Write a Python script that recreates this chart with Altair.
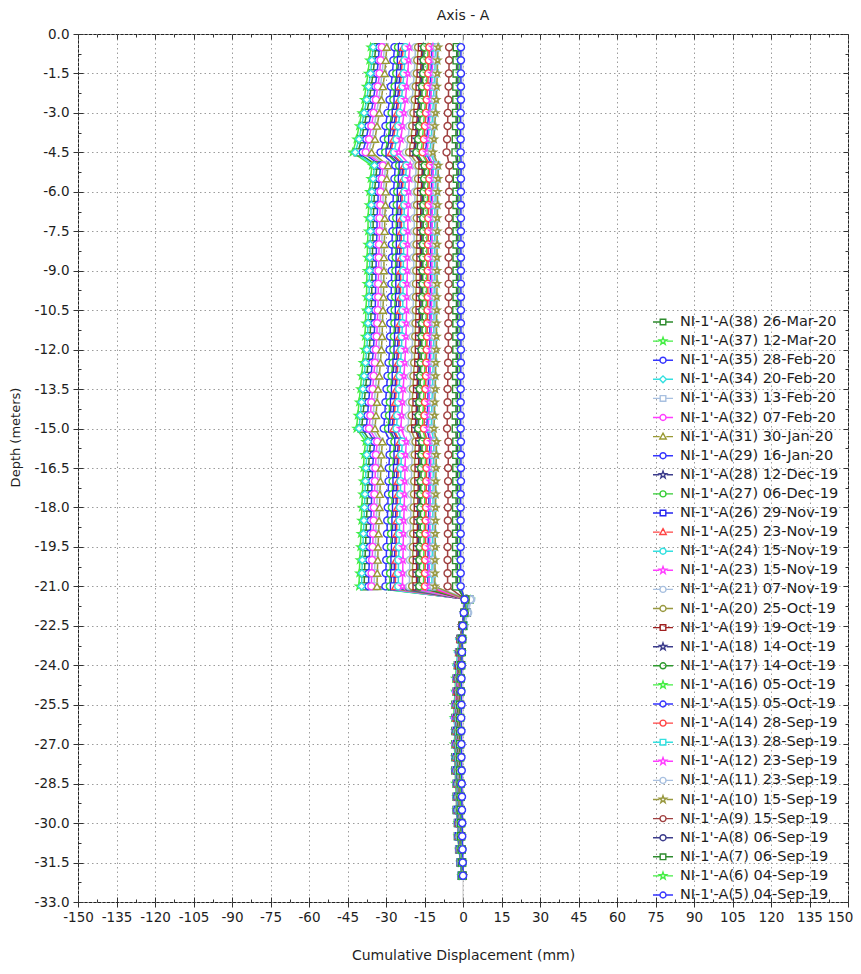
import altair as alt
import pandas as pd

FONT = "DejaVu Sans"
TXT = "#1e1e1e"

DEPTHS = [-0.5, -1.0, -1.5, -2.0, -2.5, -3.0, -3.5, -4.0, -4.5, -5.0, -5.5, -6.0, -6.5, -7.0, -7.5,
          -8.0, -8.5, -9.0, -9.5, -10.0, -10.5, -11.0, -11.5, -12.0, -12.5, -13.0, -13.5, -14.0,
          -14.5, -15.0, -15.5, -16.0, -16.5, -17.0, -17.5, -18.0, -18.5, -19.0, -19.5, -20.0, -20.5,
          -21.0, -21.5, -22.0, -22.5, -23.0, -23.5, -24.0, -24.5, -25.0, -25.5, -26.0, -26.5, -27.0,
          -27.5, -28.0, -28.5, -29.0, -29.5, -30.0, -30.5, -31.0, -31.5, -32.0]

LABELS = ["NI-1'-A(38) 26-Mar-20", "NI-1'-A(37) 12-Mar-20", "NI-1'-A(35) 28-Feb-20",
          "NI-1'-A(34) 20-Feb-20", "NI-1'-A(33) 13-Feb-20", "NI-1'-A(32) 07-Feb-20",
          "NI-1'-A(31) 30-Jan-20", "NI-1'-A(29) 16-Jan-20", "NI-1'-A(28) 12-Dec-19",
          "NI-1'-A(27) 06-Dec-19", "NI-1'-A(26) 29-Nov-19", "NI-1'-A(25) 23-Nov-19",
          "NI-1'-A(24) 15-Nov-19", "NI-1'-A(23) 15-Nov-19", "NI-1'-A(21) 07-Nov-19",
          "NI-1'-A(20) 25-Oct-19", "NI-1'-A(19) 19-Oct-19", "NI-1'-A(18) 14-Oct-19",
          "NI-1'-A(17) 14-Oct-19", "NI-1'-A(16) 05-Oct-19", "NI-1'-A(15) 05-Oct-19",
          "NI-1'-A(14) 28-Sep-19", "NI-1'-A(13) 28-Sep-19", "NI-1'-A(12) 23-Sep-19",
          "NI-1'-A(11) 23-Sep-19", "NI-1'-A(10) 15-Sep-19", "NI-1'-A(9) 15-Sep-19",
          "NI-1'-A(8) 06-Sep-19", "NI-1'-A(7) 06-Sep-19", "NI-1'-A(6) 04-Sep-19",
          "NI-1'-A(5) 04-Sep-19"]

COLORS = ["#2e8b2e", "#44ee44", "#3535ff", "#33e0e0", "#a8c0e0", "#ff3cff", "#999933",
          "#3535ff", "#3c3c8c", "#33cc33", "#2525f0", "#ff4444", "#33e0e0", "#ff3cff",
          "#a8c0e0", "#999940", "#a02020", "#3c3c8c", "#2e9a2e", "#44ee44", "#3535ff",
          "#ff4444", "#33e0e0", "#ff3cff", "#a8c0e0", "#999940", "#a04040", "#3c3c8c",
          "#2e8b2e", "#44ee44", "#3535ff"]

MARKERS = ["square", "star", "circle", "diamond", "square", "circle", "triangle", "circle",
           "star", "circle", "square", "triangle", "circle", "star", "circle", "circle",
           "square", "star", "circle", "star", "circle", "circle", "square", "star", "circle",
           "star", "circle", "circle", "square", "star", "circle"]

X_TICKS = [-150, -135, -120, -105, -90, -75, -60, -45, -30, -15, 0, 15, 30, 45, 60, 75, 90,
           105, 120, 135, 150]
X_MINOR = [-142.5, -127.5, -112.5, -97.5, -82.5, -67.5, -52.5, -37.5, -22.5, -7.5, 7.5, 22.5,
           37.5, 52.5, 67.5, 82.5, 97.5, 112.5, 127.5, 142.5]
Y_TICKS = [0.0, -1.5, -3.0, -4.5, -6.0, -7.5, -9.0, -10.5, -12.0, -13.5, -15.0, -16.5, -18.0,
           -19.5, -21.0, -22.5, -24.0, -25.5, -27.0, -28.5, -30.0, -31.5, -33.0]
Y_MINOR = [-0.75, -2.25, -3.75, -5.25, -6.75, -8.25, -9.75, -11.25, -12.75, -14.25, -15.75,
           -17.25, -18.75, -20.25, -21.75, -23.25, -24.75, -26.25, -27.75, -29.25, -30.75, -32.25]

A38 = [-34.0, -34.5, -35.0, -35.8, -36.5, -37.5, -38.5, -39.5, -41.0,
       -33.5, -34.0, -34.5, -34.7, -35.0, -35.0, -35.2, -35.3, -35.4, -35.5, -35.6, -35.8, -36.0, -36.2, -36.5, -37.0, -37.5, -38.0, -38.5, -39.0, -39.5,
       -36.0, -36.5, -36.8, -37.0, -37.2, -37.4, -37.6, -37.8, -38.0, -38.2, -38.4, -38.5,
       2.5, 1.5, 0.0, -1.0, -1.5, -2.0, -2.5, -2.5, -3.0, -3.0, -3.0, -3.0, -3.0, -3.0, -2.5, -2.5, -2.5, -2.0, -2.0, -1.5, -1.0, -0.5]
A37 = [-36.0, -36.5, -37.0, -37.8, -38.5, -39.5, -40.5, -41.5, -43.0,
       -35.5, -36.0, -36.5, -36.7, -37.0, -37.0, -37.2, -37.3, -37.4, -37.5, -37.6, -37.8, -38.0, -38.2, -38.5, -39.0, -39.5, -40.0, -40.5, -41.0, -41.5,
       -38.0, -38.5, -38.8, -39.0, -39.2, -39.4, -39.6, -39.8, -40.0, -40.2, -40.4, -40.5,
       3.0, 1.5, 0.5, -1.0, -2.0, -2.5, -3.0, -3.0, -3.5, -3.5, -3.0, -3.5, -3.0, -3.0, -3.0, -2.5, -2.5, -2.0, -2.0, -1.5, -1.0, -0.5]
A35 = [-32.6, -33.0, -33.5, -34.2, -34.9, -35.8, -36.8, -37.7, -39.1,
       -32.1, -32.6, -33.0, -33.2, -33.5, -33.5, -33.7, -33.8, -33.9, -34.0, -34.1, -34.2, -34.4, -34.6, -34.9, -35.4, -35.8, -36.3, -36.8, -37.2, -37.7,
       -34.4, -34.9, -35.2, -35.4, -35.6, -35.7, -35.9, -36.1, -36.3, -36.5, -36.7, -36.8,
       2.4, 1.4, 0.0, -1.0, -1.4, -1.9, -2.4, -2.4, -2.9, -2.9, -2.9, -2.9, -2.9, -2.9, -2.4, -2.4, -2.4, -1.9, -1.9, -1.4, -1.0, -0.5]
A34 = [-35.0, -35.5, -36.0, -36.8, -37.5, -38.5, -39.5, -40.5, -42.0,
       -34.5, -35.0, -35.5, -35.7, -36.0, -36.0, -36.2, -36.3, -36.4, -36.5, -36.6, -36.8, -37.0, -37.2, -37.5, -38.0, -38.5, -39.0, -39.5, -40.0, -40.5,
       -37.0, -37.5, -37.8, -38.0, -38.2, -38.4, -38.6, -38.8, -39.0, -39.2, -39.4, -39.5,
       2.5, 1.0, 0.0, -1.5, -2.0, -2.5, -2.5, -3.0, -3.0, -3.5, -3.0, -3.0, -3.0, -2.5, -2.5, -2.5, -2.0, -2.0, -1.5, -1.5, -1.0, -0.5]
A33 = [-30.6, -31.1, -31.5, -32.2, -32.8, -33.7, -34.6, -35.4, -36.8,
       -30.2, -30.6, -31.1, -31.2, -31.5, -31.5, -31.7, -31.8, -31.9, -31.9, -32.0, -32.2, -32.4, -32.6, -32.8, -33.3, -33.7, -34.1, -34.6, -35.0, -35.4,
       -32.4, -32.8, -33.1, -33.3, -33.4, -33.6, -33.8, -34.0, -34.1, -34.3, -34.5, -34.6,
       2.3, 1.4, 0.2, -0.9, -1.4, -1.8, -2.3, -2.3, -2.7, -2.7, -2.7, -2.7, -2.7, -2.7, -2.3, -2.3, -2.3, -1.8, -1.8, -1.4, -0.9, -0.5]
A32 = [-31.6, -32.1, -32.5, -33.2, -33.9, -34.8, -35.7, -36.6, -37.9,
       -31.2, -31.6, -32.1, -32.2, -32.5, -32.5, -32.7, -32.8, -32.9, -33.0, -33.0, -33.2, -33.4, -33.6, -33.9, -34.3, -34.8, -35.2, -35.7, -36.1, -36.6,
       -33.4, -33.9, -34.1, -34.3, -34.5, -34.7, -34.8, -35.0, -35.2, -35.4, -35.6, -35.7,
       2.0, 1.2, -0.2, -1.1, -1.6, -2.0, -2.4, -2.6, -2.9, -3.0, -2.8, -2.9, -2.7, -2.6, -2.4, -2.2, -2.1, -1.9, -1.7, -1.3, -0.9, -0.4]
A31 = [-29.7, -30.1, -30.5, -31.2, -31.8, -32.6, -33.5, -34.3, -35.6,
       -29.2, -29.7, -30.1, -30.2, -30.5, -30.5, -30.7, -30.8, -30.8, -30.9, -31.0, -31.2, -31.4, -31.5, -31.8, -32.2, -32.6, -33.1, -33.5, -33.9, -34.3,
       -31.4, -31.8, -32.0, -32.2, -32.4, -32.5, -32.7, -32.9, -33.1, -33.2, -33.4, -33.5,
       2.2, 1.3, 0.0, -0.9, -1.3, -1.8, -2.2, -2.2, -2.7, -2.7, -2.7, -2.7, -2.7, -2.7, -2.2, -2.2, -2.2, -1.8, -1.8, -1.3, -0.9, -0.4]
A29 = [-26.7, -27.1, -27.5, -28.1, -28.6, -29.4, -30.2, -30.9, -32.1,
       -26.4, -26.7, -27.1, -27.3, -27.5, -27.5, -27.7, -27.7, -27.8, -27.9, -28.0, -28.1, -28.3, -28.4, -28.6, -29.0, -29.4, -29.8, -30.2, -30.5, -30.9,
       -28.3, -28.6, -28.9, -29.0, -29.2, -29.3, -29.5, -29.6, -29.8, -29.9, -30.1, -30.2,
       2.1, 1.2, 0.0, -0.8, -1.2, -1.7, -2.1, -2.1, -2.5, -2.5, -2.5, -2.5, -2.5, -2.5, -2.1, -2.1, -2.1, -1.7, -1.7, -1.2, -0.8, -0.4]
A28 = [-24.8, -25.1, -25.5, -26.1, -26.6, -27.3, -28.0, -28.7, -29.8,
       -24.4, -24.8, -25.1, -25.3, -25.5, -25.5, -25.6, -25.7, -25.8, -25.9, -25.9, -26.1, -26.2, -26.4, -26.6, -26.9, -27.3, -27.6, -28.0, -28.3, -28.7,
       -26.2, -26.6, -26.8, -26.9, -27.1, -27.2, -27.4, -27.5, -27.6, -27.8, -27.9, -28.0,
       1.6, 0.9, -0.3, -1.1, -1.4, -1.8, -2.1, -2.2, -2.4, -2.6, -2.4, -2.3, -2.4, -2.2, -2.0, -1.9, -1.8, -1.5, -1.4, -1.0, -0.7, -0.3]
A27 = [-25.3, -25.6, -26.0, -26.6, -27.1, -27.8, -28.5, -29.2, -30.3,
       -24.9, -25.3, -25.6, -25.8, -26.0, -26.0, -26.1, -26.2, -26.3, -26.4, -26.4, -26.6, -26.7, -26.9, -27.1, -27.4, -27.8, -28.1, -28.5, -28.8, -29.2,
       -26.7, -27.1, -27.3, -27.4, -27.6, -27.7, -27.9, -28.0, -28.1, -28.3, -28.4, -28.5,
       2.2, 1.3, 0.1, -0.7, -1.3, -1.6, -2.0, -2.1, -2.4, -2.3, -2.5, -2.4, -2.5, -2.3, -2.1, -2.0, -1.9, -1.6, -1.5, -1.1, -0.8, -0.3]
A26 = [-23.8, -24.2, -24.5, -25.0, -25.5, -26.2, -26.9, -27.6, -28.6,
       -23.5, -23.8, -24.2, -24.3, -24.5, -24.5, -24.6, -24.7, -24.8, -24.8, -24.9, -25.0, -25.2, -25.3, -25.5, -25.9, -26.2, -26.5, -26.9, -27.2, -27.6,
       -25.2, -25.5, -25.7, -25.9, -26.0, -26.1, -26.3, -26.4, -26.5, -26.7, -26.8, -26.9,
       2.0, 1.2, 0.0, -0.8, -1.2, -1.6, -2.0, -2.0, -2.3, -2.3, -2.3, -2.3, -2.3, -2.3, -2.0, -2.0, -2.0, -1.6, -1.6, -1.2, -0.8, -0.4]
A25 = [-23.3, -23.7, -24.0, -24.5, -25.0, -25.7, -26.4, -27.1, -28.1,
       -23.0, -23.3, -23.7, -23.8, -24.0, -24.0, -24.1, -24.2, -24.3, -24.3, -24.4, -24.5, -24.7, -24.8, -25.0, -25.4, -25.7, -26.0, -26.4, -26.7, -27.1,
       -24.7, -25.0, -25.2, -25.4, -25.5, -25.6, -25.8, -25.9, -26.0, -26.2, -26.3, -26.4,
       1.7, 0.9, -0.2, -1.0, -1.3, -1.7, -2.1, -2.2, -2.4, -2.4, -2.2, -2.3, -2.2, -2.1, -1.9, -1.8, -1.7, -1.4, -1.3, -1.0, -0.6, -0.2]
A24 = [-22.4, -22.7, -23.0, -23.5, -24.0, -24.6, -25.2, -25.9, -26.8,
       -22.0, -22.4, -22.7, -22.8, -23.0, -23.0, -23.1, -23.2, -23.3, -23.3, -23.4, -23.5, -23.6, -23.8, -24.0, -24.3, -24.6, -24.9, -25.2, -25.6, -25.9,
       -23.6, -24.0, -24.2, -24.3, -24.4, -24.5, -24.7, -24.8, -24.9, -25.1, -25.2, -25.2,
       1.9, 1.1, 0.0, -0.8, -1.1, -1.5, -1.9, -1.9, -2.3, -2.3, -2.3, -2.3, -2.3, -2.3, -1.9, -1.9, -1.9, -1.5, -1.5, -1.1, -0.8, -0.4]
A23 = [-20.9, -21.2, -21.5, -22.0, -22.4, -23.0, -23.6, -24.2, -25.1,
       -20.6, -20.9, -21.2, -21.3, -21.5, -21.5, -21.6, -21.7, -21.7, -21.8, -21.9, -22.0, -22.1, -22.2, -22.4, -22.7, -23.0, -23.3, -23.6, -23.9, -24.2,
       -22.1, -22.4, -22.6, -22.7, -22.8, -22.9, -23.1, -23.2, -23.3, -23.4, -23.5, -23.6,
       1.5, 0.8, -0.2, -0.9, -1.2, -1.5, -1.8, -1.9, -2.1, -2.2, -2.0, -2.1, -2.0, -1.9, -1.7, -1.6, -1.5, -1.3, -1.2, -0.9, -0.6, -0.2]
A21 = [-18.5, -18.7, -19.0, -19.4, -19.8, -20.3, -20.9, -21.4, -22.2,
       -18.2, -18.5, -18.7, -18.8, -19.0, -19.0, -19.1, -19.2, -19.2, -19.3, -19.3, -19.4, -19.5, -19.6, -19.8, -20.1, -20.3, -20.6, -20.9, -21.1, -21.4,
       -19.5, -19.8, -20.0, -20.1, -20.2, -20.3, -20.4, -20.5, -20.6, -20.7, -20.8, -20.9,
       3.2, 2.0, 0.5, -0.4, -0.9, -1.3, -1.6, -1.6, -1.9, -1.9, -1.9, -1.9, -1.9, -1.9, -1.6, -1.6, -1.6, -1.3, -1.3, -0.9, -0.6, -0.3]
A20 = [-17.5, -17.8, -18.0, -18.4, -18.8, -19.3, -19.8, -20.3, -21.0,
       -17.3, -17.5, -17.8, -17.9, -18.0, -18.0, -18.1, -18.2, -18.2, -18.3, -18.3, -18.4, -18.5, -18.6, -18.8, -19.0, -19.3, -19.5, -19.8, -20.0, -20.3,
       -18.5, -18.8, -18.9, -19.0, -19.1, -19.2, -19.3, -19.4, -19.5, -19.6, -19.7, -19.8,
       1.6, 1.0, 0.0, -0.7, -1.0, -1.3, -1.6, -1.6, -2.0, -2.0, -2.0, -2.0, -2.0, -2.0, -1.6, -1.6, -1.6, -1.3, -1.3, -1.0, -0.7, -0.3]
A19 = [-16.0, -16.3, -16.5, -16.9, -17.2, -17.7, -18.1, -18.6, -19.3,
       -15.8, -16.0, -16.3, -16.4, -16.5, -16.5, -16.6, -16.6, -16.7, -16.7, -16.8, -16.9, -17.0, -17.1, -17.2, -17.4, -17.7, -17.9, -18.1, -18.3, -18.6,
       -17.0, -17.2, -17.3, -17.4, -17.5, -17.6, -17.7, -17.8, -17.9, -18.0, -18.1, -18.1,
       1.3, 0.7, -0.2, -0.8, -1.1, -1.4, -1.6, -1.7, -1.9, -2.0, -1.8, -1.9, -1.8, -1.7, -1.5, -1.5, -1.4, -1.2, -1.1, -0.8, -0.5, -0.2]
A18 = [-15.5, -15.8, -16.0, -16.4, -16.7, -17.2, -17.6, -18.1, -18.8,
       -15.3, -15.5, -15.8, -15.9, -16.0, -16.0, -16.1, -16.1, -16.2, -16.2, -16.3, -16.4, -16.5, -16.6, -16.7, -16.9, -17.2, -17.4, -17.6, -17.8, -18.1,
       -16.5, -16.7, -16.8, -16.9, -17.0, -17.1, -17.2, -17.3, -17.4, -17.5, -17.6, -17.6,
       1.5, 0.9, 0.0, -0.6, -0.9, -1.2, -1.5, -1.5, -1.8, -1.8, -1.8, -1.8, -1.8, -1.8, -1.5, -1.5, -1.5, -1.2, -1.2, -0.9, -0.6, -0.3]
A17 = [-15.1, -15.3, -15.5, -15.9, -16.1, -16.6, -17.0, -17.4, -18.1,
       -14.9, -15.1, -15.3, -15.4, -15.5, -15.5, -15.6, -15.6, -15.7, -15.7, -15.8, -15.8, -15.9, -16.0, -16.1, -16.4, -16.6, -16.8, -17.0, -17.2, -17.4,
       -15.9, -16.1, -16.3, -16.4, -16.5, -16.5, -16.6, -16.7, -16.8, -16.9, -17.0, -17.0,
       1.2, 0.6, -0.3, -0.9, -1.1, -1.4, -1.6, -1.6, -1.8, -1.9, -1.7, -1.8, -1.7, -1.6, -1.4, -1.3, -1.3, -1.1, -1.0, -0.7, -0.5, -0.2]
A16 = [-13.6, -13.8, -14.0, -14.3, -14.6, -15.0, -15.4, -15.8, -16.3,
       -13.4, -13.6, -13.8, -13.9, -14.0, -14.0, -14.1, -14.1, -14.2, -14.2, -14.2, -14.3, -14.4, -14.5, -14.6, -14.8, -15.0, -15.2, -15.4, -15.6, -15.8,
       -14.4, -14.6, -14.7, -14.8, -14.9, -14.9, -15.0, -15.1, -15.2, -15.3, -15.3, -15.4,
       1.4, 0.9, 0.0, -0.6, -0.9, -1.1, -1.4, -1.4, -1.7, -1.7, -1.7, -1.7, -1.7, -1.7, -1.4, -1.4, -1.4, -1.1, -1.1, -0.9, -0.6, -0.3]
A15 = [-12.2, -12.3, -12.5, -12.8, -13.0, -13.4, -13.7, -14.1, -14.6,
       -12.0, -12.2, -12.3, -12.4, -12.5, -12.5, -12.6, -12.6, -12.6, -12.7, -12.7, -12.8, -12.9, -12.9, -13.0, -13.2, -13.4, -13.6, -13.7, -13.9, -14.1,
       -12.9, -13.0, -13.1, -13.2, -13.3, -13.3, -13.4, -13.5, -13.6, -13.6, -13.7, -13.7,
       1.1, 0.6, -0.2, -0.7, -0.9, -1.2, -1.4, -1.5, -1.6, -1.7, -1.5, -1.6, -1.5, -1.4, -1.3, -1.2, -1.1, -0.9, -0.9, -0.6, -0.4, -0.1]
A14 = [-13.1, -13.3, -13.5, -13.8, -14.1, -14.4, -14.8, -15.2, -15.7,
       -12.9, -13.1, -13.3, -13.4, -13.5, -13.5, -13.6, -13.6, -13.7, -13.7, -13.7, -13.8, -13.9, -14.0, -14.1, -14.3, -14.4, -14.6, -14.8, -15.0, -15.2,
       -13.9, -14.1, -14.2, -14.3, -14.3, -14.4, -14.5, -14.6, -14.6, -14.7, -14.8, -14.8,
       1.3, 0.8, 0.0, -0.5, -0.8, -1.1, -1.4, -1.4, -1.6, -1.6, -1.6, -1.6, -1.6, -1.6, -1.4, -1.4, -1.4, -1.1, -1.1, -0.8, -0.5, -0.3]
A13 = [-10.7, -10.8, -11.0, -11.3, -11.5, -11.8, -12.1, -12.4, -12.9,
       -10.5, -10.7, -10.8, -10.9, -11.0, -11.0, -11.1, -11.1, -11.1, -11.2, -11.2, -11.3, -11.3, -11.4, -11.5, -11.6, -11.8, -11.9, -12.1, -12.2, -12.4,
       -11.3, -11.5, -11.6, -11.6, -11.7, -11.7, -11.8, -11.9, -11.9, -12.0, -12.1, -12.1,
       1.3, 0.8, 0.1, -0.5, -0.8, -1.0, -1.3, -1.3, -1.6, -1.6, -1.6, -1.6, -1.6, -1.6, -1.3, -1.3, -1.3, -1.0, -1.0, -0.8, -0.5, -0.3]
A12 = [-11.7, -11.8, -12.0, -12.3, -12.5, -12.8, -13.2, -13.5, -14.0,
       -11.5, -11.7, -11.8, -11.9, -12.0, -12.0, -12.1, -12.1, -12.1, -12.2, -12.2, -12.3, -12.3, -12.4, -12.5, -12.7, -12.8, -13.0, -13.2, -13.3, -13.5,
       -12.3, -12.5, -12.6, -12.7, -12.7, -12.8, -12.9, -12.9, -13.0, -13.1, -13.1, -13.2,
       1.0, 0.5, -0.3, -0.7, -1.0, -1.2, -1.4, -1.5, -1.6, -1.7, -1.5, -1.6, -1.5, -1.4, -1.2, -1.1, -1.1, -0.9, -0.8, -0.6, -0.4, -0.1]
A11 = [-10.2, -10.4, -10.5, -10.7, -10.9, -11.2, -11.5, -11.8, -12.2,
       -10.1, -10.2, -10.4, -10.4, -10.5, -10.5, -10.6, -10.6, -10.6, -10.7, -10.7, -10.7, -10.8, -10.9, -10.9, -11.1, -11.2, -11.4, -11.5, -11.7, -11.8,
       -10.8, -10.9, -11.0, -11.1, -11.1, -11.2, -11.3, -11.3, -11.4, -11.4, -11.5, -11.5,
       2.8, 1.7, 0.4, -0.3, -0.7, -1.0, -1.3, -1.3, -1.5, -1.5, -1.5, -1.5, -1.5, -1.5, -1.3, -1.3, -1.3, -1.0, -1.0, -0.7, -0.5, -0.2]
A10 = [-9.7, -9.9, -10.0, -10.2, -10.4, -10.7, -11.0, -11.3, -11.7,
       -9.6, -9.7, -9.9, -9.9, -10.0, -10.0, -10.1, -10.1, -10.1, -10.1, -10.2, -10.2, -10.3, -10.3, -10.4, -10.6, -10.7, -10.8, -11.0, -11.1, -11.3,
       -10.3, -10.4, -10.5, -10.6, -10.6, -10.7, -10.7, -10.8, -10.8, -10.9, -10.9, -11.0,
       0.9, 0.4, -0.3, -0.8, -1.0, -1.2, -1.4, -1.4, -1.6, -1.6, -1.5, -1.5, -1.4, -1.4, -1.2, -1.1, -1.0, -0.9, -0.8, -0.6, -0.4, -0.1]
A9 = [-5.4, -5.4, -5.5, -5.6, -5.7, -5.9, -6.0, -6.2, -6.4,
      -5.3, -5.4, -5.4, -5.5, -5.5, -5.5, -5.5, -5.6, -5.6, -5.6, -5.6, -5.6, -5.7, -5.7, -5.7, -5.8, -5.9, -6.0, -6.0, -6.1, -6.2,
      -5.7, -5.7, -5.8, -5.8, -5.8, -5.9, -5.9, -5.9, -6.0, -6.0, -6.0, -6.0,
      1.0, 0.6, 0.0, -0.4, -0.6, -0.8, -1.0, -1.0, -1.2, -1.2, -1.2, -1.2, -1.2, -1.2, -1.0, -1.0, -1.0, -0.8, -0.8, -0.6, -0.4, -0.2]
A8 = [-2.0, -2.0, -2.0, -2.0, -2.1, -2.1, -2.2, -2.3, -2.4,
      -1.9, -1.9, -2.0, -2.0, -2.0, -2.0, -2.0, -2.0, -2.0, -2.0, -2.0, -2.0, -2.1, -2.1, -2.1, -2.1, -2.2, -2.2, -2.2, -2.2, -2.3,
      -2.1, -2.1, -2.1, -2.1, -2.1, -2.1, -2.2, -2.2, -2.2, -2.2, -2.2, -2.2,
      0.7, 0.4, -0.1, -0.4, -0.6, -0.7, -0.8, -0.8, -1.0, -1.0, -0.9, -0.9, -0.9, -0.8, -0.7, -0.7, -0.6, -0.5, -0.5, -0.3, -0.2, 0.0]
A7 = [-2.4, -2.5, -2.5, -2.6, -2.6, -2.7, -2.7, -2.8, -2.9,
      -2.4, -2.4, -2.5, -2.5, -2.5, -2.5, -2.5, -2.5, -2.5, -2.5, -2.5, -2.6, -2.6, -2.6, -2.6, -2.6, -2.7, -2.7, -2.7, -2.8, -2.8,
      -2.6, -2.6, -2.6, -2.6, -2.7, -2.7, -2.7, -2.7, -2.7, -2.7, -2.7, -2.7,
      0.9, 0.5, 0.0, -0.3, -0.5, -0.7, -0.9, -0.9, -1.1, -1.1, -1.1, -1.1, -1.1, -1.1, -0.9, -0.9, -0.9, -0.7, -0.7, -0.5, -0.3, -0.2]
A6 = [-1.2, -1.2, -1.2, -1.2, -1.2, -1.3, -1.3, -1.3, -1.4,
      -1.1, -1.2, -1.2, -1.2, -1.2, -1.2, -1.2, -1.2, -1.2, -1.2, -1.2, -1.2, -1.2, -1.2, -1.2, -1.3, -1.3, -1.3, -1.3, -1.3, -1.3,
      -1.2, -1.3, -1.3, -1.3, -1.3, -1.3, -1.3, -1.3, -1.3, -1.3, -1.3, -1.3,
      0.8, 0.5, 0.0, -0.3, -0.5, -0.6, -0.8, -0.8, -0.9, -0.9, -0.9, -0.9, -0.9, -0.9, -0.8, -0.8, -0.8, -0.6, -0.6, -0.5, -0.3, -0.2]
A5 = [-0.8, -0.8, -0.8, -0.8, -0.8, -0.9, -0.9, -0.9, -0.9,
      -0.7, -0.8, -0.8, -0.8, -0.8, -0.8, -0.8, -0.8, -0.8, -0.8, -0.8, -0.8, -0.8, -0.8, -0.8, -0.8, -0.9, -0.9, -0.9, -0.9, -0.9,
      -0.8, -0.8, -0.8, -0.8, -0.9, -0.9, -0.9, -0.9, -0.9, -0.9, -0.9, -0.9,
      0.6, 0.3, -0.1, -0.3, -0.4, -0.5, -0.6, -0.6, -0.6, -0.7, -0.6, -0.6, -0.6, -0.5, -0.5, -0.4, -0.4, -0.3, -0.3, -0.2, -0.1, 0.0]

SERIES = [A38, A37, A35, A34, A33, A32, A31, A29, A28, A27, A26, A25, A24, A23, A21, A20,
          A19, A18, A17, A16, A15, A14, A13, A12, A11, A10, A9, A8, A7, A6, A5]

for _s in SERIES:
    assert len(_s) == len(DEPTHS), len(_s)

STAR = ("M0,-1L0.24,-0.32L0.95,-0.31L0.38,0.12L0.59,0.81L0,0.4L-0.59,0.81"
        "L-0.38,0.12L-0.95,-0.31L-0.24,-0.32Z")
PLOT_SHAPE = {"circle": "circle", "square": "square", "triangle": "triangle-up",
              "diamond": "diamond", "star": STAR}
LEG_SHAPE = {
    "circle": "M-1.43,0H-0.47M0.47,0H1.43M0.43,0A0.43,0.43,0,1,1,-0.43,0A0.43,0.43,0,1,1,0.43,0Z",
    "square": "M-1.43,0H-0.43M0.43,0H1.43M-0.4,-0.4H0.4V0.4H-0.4Z",
    "triangle": "M-1.43,0H-0.47M0.47,0H1.43M0,-0.49L0.46,0.34H-0.46Z",
    "diamond": "M-1.43,0H-0.5M0.5,0H1.43M0,-0.49L0.49,0L0,0.49L-0.49,0Z",
    "star": "M-1.43,0H-0.52M0.52,0H1.43M0,-0.54L0.13,-0.17L0.51,-0.17L0.2,0.07L0.31,0.44"
            "L0,0.21L-0.31,0.44L-0.2,0.07L-0.51,-0.17L-0.13,-0.17Z",
}

rows = []
for lab, vals in zip(LABELS, SERIES):
    for i, (d, v) in enumerate(zip(DEPTHS, vals)):
        rows.append({"series": lab, "disp": v, "depth": d, "idx": i})
df = pd.DataFrame(rows)
df_series = pd.DataFrame({"series": LABELS, "lx": [0.0] * len(LABELS), "ly": [0.0] * len(LABELS)})

XS = alt.Scale(domain=[-150, 150], nice=False, zero=False)
YS = alt.Scale(domain=[-33, 0], nice=False, zero=False)


def color_enc(legend=None):
    return alt.Color("series:N", scale=alt.Scale(domain=LABELS, range=COLORS), legend=legend)


def axes_layer(xaxis, yaxis):
    return alt.Chart(pd.DataFrame({"x": [0.0], "y": [0.0]})).mark_point(opacity=0, size=1).encode(
        x=alt.X("x:Q", scale=XS, axis=xaxis),
        y=alt.Y("y:Q", scale=YS, axis=yaxis),
    )


def tick_axis(orient, values, size, offset):
    return alt.Axis(orient=orient, values=values, tickSize=size, offset=offset, labels=False,
                    domain=False, grid=False, title=None, tickColor="#333333", tickWidth=1)


main_x = alt.Axis(
    orient="bottom", values=X_TICKS, labelExpr="(datum.value < 0 ? '-' : '') + abs(datum.value)",
    tickSize=5, tickColor="#333333", labelPadding=3, domain=False,
    labelOverlap=False, labelFlush=False,
    labelOffset={"condition": {"test": "datum.value >= 150", "value": -8}, "value": 0},
    grid=True, gridDash=[1.5, 3], gridColor="#9c9c9c", gridWidth=1,
    labelFont=FONT, labelFontSize=13.5, labelColor=TXT,
    title="Cumulative Displacement (mm)", titleFont=FONT, titleFontSize=14,
    titleFontWeight="normal", titleColor=TXT, titlePadding=25,
)
main_y = alt.Axis(
    orient="left", values=Y_TICKS,
    labelExpr="(datum.value < 0 ? '-' : '') + format(abs(datum.value), '.1f')",
    tickSize=5, tickColor="#333333", labelPadding=4, domain=False,
    labelOverlap=False, labelFlush=False,
    grid=True, gridDash=[1.5, 3], gridColor="#9c9c9c", gridWidth=1,
    labelFont=FONT, labelFontSize=13.5, labelColor=TXT,
    title="Depth (meters)", titleFont=FONT, titleFontSize=13, titleFontWeight="normal",
    titleColor=TXT, titleX=-56, titleY=403, titleAngle=-90, titleBaseline="bottom",
)

ax_main = axes_layer(main_x, main_y)
ax_in_major = axes_layer(tick_axis("bottom", X_TICKS, 5, -5), tick_axis("left", Y_TICKS, 5, -5))
ax_in_minor = axes_layer(tick_axis("bottom", X_MINOR, 3, -3), tick_axis("left", Y_MINOR, 3, -3))
ax_top_major = axes_layer(tick_axis("top", X_TICKS, 5, -5), tick_axis("right", Y_TICKS, 5, -5))
ax_top_minor = axes_layer(tick_axis("top", X_MINOR, 3, -3), tick_axis("right", Y_MINOR, 3, -3))

zero_line = alt.Chart(pd.DataFrame({"x": [0.0]})).mark_rule(color="#c4c4c4", strokeWidth=1).encode(
    x=alt.X("x:Q", scale=XS, axis=None)
)

lines = alt.Chart(df).mark_line(strokeWidth=1.5, clip=True).encode(
    x=alt.X("disp:Q", scale=XS, axis=None),
    y=alt.Y("depth:Q", scale=YS, axis=None),
    color=color_enc(),
    order=alt.Order("idx:Q"),
)

points = alt.Chart(df).mark_point(filled=False, fill="white", size=50, strokeWidth=1.4,
                                  opacity=1, clip=True).encode(
    x=alt.X("disp:Q", scale=XS, axis=None),
    y=alt.Y("depth:Q", scale=YS, axis=None),
    color=color_enc(),
    shape=alt.Shape("series:N", scale=alt.Scale(domain=LABELS,
                                                range=[PLOT_SHAPE[m] for m in MARKERS]),
                    legend=None),
)

LEG = alt.Legend(title=None, orient="none", legendX=577, legendY=280, padding=0,
                 labelFont=FONT, labelFontSize=14.5, labelColor=TXT, labelLimit=400,
                 labelOffset=9, symbolSize=196, symbolStrokeWidth=1.4, rowPadding=4.1,
                 symbolLimit=60)

legend_layer = alt.Chart(df_series).mark_point(filled=False, strokeWidth=1.4, opacity=1).encode(
    x=alt.X("lx:Q", scale=XS, axis=None),
    y=alt.Y("ly:Q", scale=YS, axis=None),
    color=color_enc(LEG),
    shape=alt.Shape("series:N", scale=alt.Scale(domain=LABELS,
                                                range=[LEG_SHAPE[m] for m in MARKERS]),
                    legend=LEG),
).transform_filter("false")

chart = alt.layer(
    ax_main, zero_line, lines, points, legend_layer,
    ax_in_major, ax_in_minor, ax_top_major, ax_top_minor,
).resolve_scale(
    color="independent", shape="independent"
).resolve_axis(
    x="independent", y="independent"
).properties(
    width=770, height=868,
    title=alt.TitleParams("Axis - A", font=FONT, fontSize=14, fontWeight="normal",
                          color=TXT, anchor="middle", offset=4),
    padding={"left": 70, "top": 26, "right": 5, "bottom": 62},
    autosize=alt.AutoSizeParams(type="none"),
).configure_view(stroke="#222222", strokeWidth=1)

chart.save("out.html", embed_options={"renderer": "svg", "actions": False})
